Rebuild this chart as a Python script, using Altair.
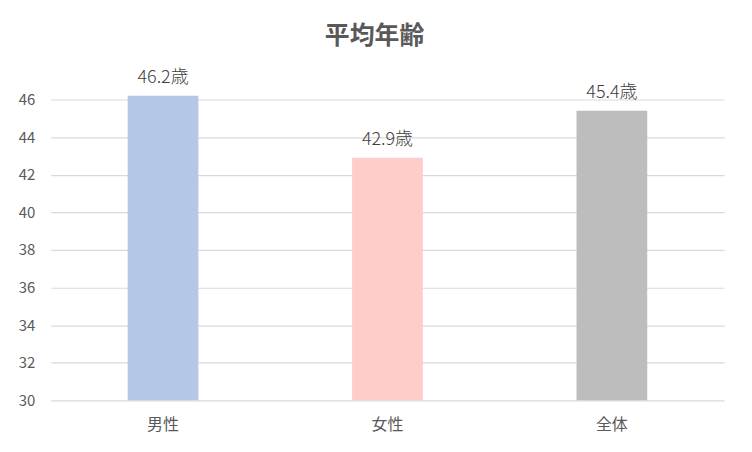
import altair as alt
import pandas as pd

categories = ["男性", "女性", "全体"]
values = [46.2, 42.9, 45.4]
labels = ["46.2歳", "42.9歳", "45.4歳"]
colors = ["#b4c7e7", "#ffcccc", "#bdbdbd"]
y_ticks = [30, 32, 34, 36, 38, 40, 42, 44, 46]
y_base = 30

df = pd.DataFrame({"cat": categories, "val": values, "label": labels})

FONT = "Noto Sans CJK JP"

x_enc = alt.X("cat:N", sort=categories, title=None,
              scale=alt.Scale(paddingInner=0, paddingOuter=0),
              axis=alt.Axis(labelAngle=0, domain=False, ticks=False, labelPadding=16,
                            labelFontSize=16, labelColor="#595959", labelFont=FONT))
y_enc = alt.Y("val:Q", title=None,
              scale=alt.Scale(domain=[30, 46], nice=False, zero=False),
              axis=alt.Axis(values=y_ticks, domain=False, ticks=False, labelPadding=16,
                            labelOverlap=False, tickCount=9,
                            labelFontSize=15, labelColor="#595959", labelFont=FONT,
                            gridColor="#d9d9d9", gridWidth=1.2))

bars = alt.Chart(df).mark_bar(size=71).encode(
    x=x_enc,
    y=y_enc,
    y2=alt.datum(y_base),
    color=alt.Color("cat:N", sort=categories,
                    scale=alt.Scale(domain=categories, range=colors), legend=None),
)

text = alt.Chart(df).mark_text(dy=-18, fontSize=18, color="#404040", font=FONT,
                               fontWeight=300).encode(
    x=x_enc,
    y=y_enc,
    text="label:N",
)

chart = alt.layer(bars, text).properties(
    width=676,
    height=302,
    background="white",
    title=alt.TitleParams("平均年齢", fontSize=25, fontWeight="bold", color="#595959",
                          font=FONT, anchor="middle", frame="group", offset=20, dx=-13),
    padding={"left": 43, "top": 91, "right": 20, "bottom": 45},
    autosize=alt.AutoSizeParams(type="none"),
).configure_view(stroke=None)

chart.save("out.html", embed_options={"renderer": "svg", "actions": False})
